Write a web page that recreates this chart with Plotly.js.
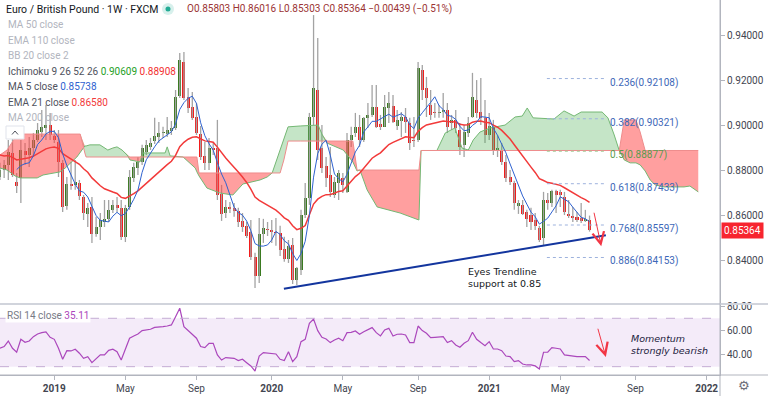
<!DOCTYPE html>
<html><head><meta charset="utf-8">
<script src="https://cdn.plot.ly/plotly-3.0.1.min.js"></script>
<style>html,body{margin:0;padding:0;background:#fff;}#chart{width:768px;height:396px;}</style>
</head><body><div id="chart"></div>
<script>
// ---------- DATA (EUR/GBP weekly, FXCM) ----------
const firstBarDate = '2018-10-07';
const opens = [0.8773,0.8804,0.8827,0.8880,0.8751,0.8769,0.8889,0.8871,0.8902,0.8938,
0.8973,0.8991,0.9004,0.8956,0.8929,0.8836,0.8644,0.8742,0.8738,0.8747,
0.8684,0.8609,0.8640,0.8520,0.8551,0.8573,0.8587,0.8627,0.8649,0.8636,
0.8507,0.8640,0.8769,0.8813,0.8840,0.8884,0.8907,0.8933,0.8951,0.8969,
0.8964,0.8978,0.8991,0.9133,0.9284,0.9129,0.9084,0.9040,0.8964,0.8867,
0.8836,0.8902,0.8902,0.8698,0.8613,0.8640,0.8636,0.8622,0.8578,0.8556,
0.8529,0.8418,0.8333,0.8520,0.8542,0.8538,0.8529,0.8524,0.8453,0.8409,
0.8471,0.8316,0.8360,0.8604,0.8680,0.9040,0.9160,0.8902,0.8822,0.8782,
0.8693,0.8747,0.8769,0.8707,0.8938,0.8969,0.8996,0.8938,0.9036,0.9049,
0.9084,0.9009,0.8996,0.9080,0.9089,0.9000,0.9022,0.9040,0.9013,0.8938,
0.8938,0.9249,0.9169,0.9093,0.9062,0.9058,0.9062,0.9071,0.9013,0.9027,
0.8982,0.8916,0.8969,0.9040,0.9116,0.9062,0.9036,0.8960,0.8996,0.8893,
0.8893,0.8840,0.8773,0.8747,0.8644,0.8649,0.8618,0.8604,0.8582,0.8547,
0.8502,0.8671,0.8658,0.8711,0.8707,0.8684,0.8609,0.8600,0.8596,0.8591,
0.8578,0.85803];
const highs = [0.8836,0.8849,0.8938,0.8960,0.8791,0.8938,0.8924,0.8951,0.8969,0.9013,
0.9071,0.9093,0.9058,0.8982,0.8982,0.8849,0.8773,0.8840,0.8849,0.8760,
0.8693,0.8658,0.8684,0.8596,0.8613,0.8671,0.8671,0.8671,0.8684,0.8671,
0.8649,0.8804,0.8836,0.8862,0.8916,0.8938,0.8947,0.9036,0.9018,0.8996,
0.9040,0.9022,0.9160,0.9324,0.9329,0.9169,0.9151,0.9102,0.9000,0.8929,
0.8947,0.8924,0.9027,0.8738,0.8671,0.8662,0.8658,0.8636,0.8613,0.8573,
0.8582,0.8436,0.8591,0.8587,0.8573,0.8582,0.8591,0.8556,0.8507,0.8493,
0.8502,0.8373,0.8627,0.8747,0.9058,0.9493,0.9391,0.9004,0.8862,0.8907,
0.8773,0.8804,0.8791,0.8969,0.8996,0.9058,0.9049,0.9040,0.9102,0.9182,
0.9182,0.9049,0.9138,0.9151,0.9138,0.9071,0.9062,0.9080,0.9036,0.9040,
0.9284,0.9271,0.9218,0.9160,0.9102,0.9093,0.9147,0.9102,0.9049,0.9071,
0.9013,0.9004,0.9040,0.9236,0.9204,0.9213,0.9116,0.9058,0.9027,0.8960,
0.8924,0.8871,0.8804,0.8756,0.8671,0.8671,0.8627,0.8636,0.8613,0.8556,
0.8707,0.8702,0.8716,0.8716,0.8716,0.8707,0.8671,0.8640,0.8618,0.8658,
0.8627,0.86016];
const lows = [0.8760,0.8769,0.8760,0.8773,0.8702,0.8658,0.8827,0.8818,0.8862,0.8929,
0.8951,0.8938,0.8938,0.8924,0.8773,0.8618,0.8627,0.8716,0.8716,0.8671,
0.8582,0.8551,0.8480,0.8507,0.8493,0.8551,0.8573,0.8613,0.8618,0.8493,
0.8484,0.8627,0.8751,0.8782,0.8827,0.8871,0.8893,0.8920,0.8924,0.8947,
0.8951,0.8960,0.8982,0.9124,0.9116,0.9058,0.9027,0.8960,0.8849,0.8804,
0.8804,0.8871,0.8671,0.8578,0.8591,0.8613,0.8596,0.8551,0.8529,0.8502,
0.8404,0.8280,0.8302,0.8480,0.8511,0.8480,0.8467,0.8422,0.8396,0.8391,
0.8298,0.8293,0.8338,0.8591,0.8649,0.9004,0.8849,0.8791,0.8729,0.8684,
0.8680,0.8671,0.8702,0.8702,0.8907,0.8951,0.8907,0.8929,0.8991,0.9040,
0.8991,0.8982,0.8996,0.9013,0.9013,0.8982,0.8951,0.8969,0.8893,0.8907,
0.8929,0.9116,0.9040,0.9027,0.9036,0.9036,0.9036,0.8969,0.8982,0.8969,
0.8871,0.8862,0.8951,0.9036,0.9036,0.9004,0.8924,0.8938,0.8871,0.8862,
0.8827,0.8751,0.8738,0.8627,0.8609,0.8604,0.8551,0.8538,0.8538,0.8484,
0.8471,0.8627,0.8640,0.8613,0.8640,0.8604,0.8591,0.8573,0.8573,0.8569,
0.8573,0.85303];
const closes = [0.8804,0.8827,0.8884,0.8782,0.8733,0.8893,0.8871,0.8902,0.8938,0.8982,
0.8996,0.9004,0.8960,0.8938,0.8840,0.8640,0.8742,0.8733,0.8751,0.8689,
0.8613,0.8636,0.8520,0.8551,0.8582,0.8587,0.8627,0.8649,0.8636,0.8507,
0.8636,0.8773,0.8818,0.8840,0.8902,0.8916,0.8924,0.8956,0.8969,0.8973,
0.8982,0.8991,0.9129,0.9293,0.9124,0.9080,0.9036,0.8969,0.8862,0.8836,
0.8902,0.8893,0.8693,0.8609,0.8640,0.8631,0.8622,0.8573,0.8551,0.8511,
0.8418,0.8333,0.8520,0.8547,0.8538,0.8529,0.8524,0.8449,0.8409,0.8467,
0.8316,0.8369,0.8604,0.8680,0.9040,0.9169,0.8893,0.8813,0.8769,0.8707,
0.8751,0.8791,0.8738,0.8938,0.8960,0.8996,0.8938,0.9036,0.9049,0.9084,
0.8996,0.8996,0.9084,0.9102,0.9018,0.9027,0.9040,0.9018,0.8924,0.8933,
0.9258,0.9160,0.9124,0.9049,0.9058,0.9062,0.9071,0.8996,0.9027,0.8991,
0.8907,0.8973,0.9013,0.9129,0.9058,0.9036,0.8960,0.9000,0.8893,0.8902,
0.8840,0.8769,0.8751,0.8658,0.8658,0.8609,0.8587,0.8573,0.8556,0.8493,
0.8671,0.8658,0.8711,0.8693,0.8693,0.8618,0.8600,0.8591,0.8582,0.8578,
0.8587,0.85364];
const rsi14 = [45.2,46.6,51.2,45.2,41.9,52.6,50.1,51.2,54.8,57.0,
58.1,58.7,54.3,52.6,45.2,36.1,43.2,43.0,44.4,41.1,
36.9,38.3,33.3,36.4,39.7,39.7,43.5,44.4,42.4,35.5,
45.2,53.5,55.4,57.0,59.8,60.3,60.9,62.5,63.1,63.1,
63.6,64.5,71.3,78.3,63.1,59.8,56.8,53.5,46.6,45.7,
49.3,49.3,39.7,35.5,37.5,37.5,36.9,35.0,36.1,33.3,
30.6,26.4,38.8,41.6,41.1,40.5,40.5,36.1,35.0,42.4,
34.1,38.3,50.7,52.6,65.9,69.4,59.8,54.3,52.9,49.9,
52.1,53.5,51.5,58.1,58.4,59.5,56.8,58.9,60.9,62.3,
58.1,55.4,60.4,61.7,55.4,56.8,57.0,56.2,49.9,49.9,
63.6,59.8,57.6,54.0,54.3,54.3,54.8,49.9,51.5,47.9,
46.0,49.3,51.5,58.4,52.6,49.9,47.4,50.7,44.6,44.6,
43.2,38.8,38.3,34.1,35.0,32.2,31.4,31.4,30.6,28.1,
41.9,41.9,45.7,45.2,44.6,39.7,39.1,38.6,38.3,38.3,
38.3,35.11];
// Ichimoku cloud (leading spans, already displaced 26 bars), read at bar offsets
const cloudWeek = [0,1.7,3.6,4.8,8.9,10.3,14.4,15.6,18.4,19.2,
20.3,20.6,21.5,23.9,25.8,27.0,28.0,29.2,30.4,31.1,
33.5,34.2,39.5,40.0,40.7,43.8,46.7,47.1,47.6,49.5,
52.6,55.7,58.1,62.2,63.9,65.1,67.0,67.9,68.9,71.8,
76.1,77.0,78.2,82.1,83.7,84.4,85.4,86.1,87.8,90.2,
95.7,99.8,100.2,100.7,104.5,106.5,108.8,110.5,112.0,113.2,
114.8,117.2,120.8,123.2,124.9,126.1,127.5,132.5,134.9,137.3,
139.0,144.0,145.4,146.9,148.1,149.3,150.7,152.1,153.1,154.3,
155.5,156.7,158.8,163.6,165.0,167.0];
const spanA = [0.8813,0.8804,0.8778,0.8769,0.8769,0.8782,0.8796,0.8813,0.8862,0.8884,
0.8911,0.8911,0.8916,0.8916,0.8893,0.8902,0.8907,0.8893,0.8871,0.8849,
0.8840,0.8880,0.8880,0.8907,0.8867,0.8862,0.8813,0.8796,0.8778,0.8724,
0.8702,0.8693,0.8742,0.8760,0.8773,0.8791,0.8893,0.8947,0.8996,0.9000,
0.9004,0.8964,0.8924,0.8893,0.8858,0.8840,0.8800,0.8804,0.8716,0.8640,
0.8613,0.8582,0.8582,0.8891,0.8891,0.8969,0.8991,0.8902,0.8893,0.8938,
0.8973,0.8991,0.9004,0.9040,0.9044,0.9080,0.9036,0.9031,0.9067,0.9044,
0.9062,0.9062,0.9036,0.8960,0.8891,0.8849,0.8836,0.8836,0.8827,0.8800,
0.8760,0.8738,0.8729,0.8729,0.8733,0.8707];
const spanB = [0.8871,0.8893,0.8947,0.8964,0.8964,0.8964,0.8964,0.8964,0.8964,0.8964,
0.8880,0.8862,0.8862,0.8862,0.8862,0.8862,0.8862,0.8862,0.8862,0.8862,
0.8862,0.8862,0.8862,0.8862,0.8862,0.8862,0.8862,0.8862,0.8791,0.8791,
0.8791,0.8791,0.8791,0.8791,0.8791,0.8791,0.8791,0.8849,0.8933,0.8933,
0.8933,0.8933,0.8933,0.8933,0.8933,0.8933,0.8804,0.8804,0.8804,0.8804,
0.8804,0.8804,0.8804,0.8891,0.8891,0.8891,0.8891,0.8891,0.8891,0.8891,
0.8891,0.8891,0.8891,0.8891,0.8891,0.8891,0.8891,0.8891,0.8891,0.8891,
0.8891,0.8891,0.8891,0.8891,0.8891,0.9027,0.9027,0.9027,0.8973,0.8891,
0.8891,0.8891,0.8891,0.8891,0.8891,0.8891];
const emaSeed = 0.8871;          // EMA 21 value at the first visible bar
const fibRatios = ['0.236','0.382','0.5','0.618','0.768','0.886'];
const fibPrices = [0.92108,0.90321,0.88877,0.87433,0.85597,0.84153];
const fibStartWeek = 130.8, fibEndWeek = 144.9, fibLabelWeek = 145.4;
const trendStart = {week: 67.9, price: 0.8276};
const trendEnd = {week: 144.9, price: 0.8514};
const priceArrow = {fromWeek: 142.0, fromPrice: 0.8621, toWeek: 143.8, toPrice: 0.8465};
const rsiArrow = {fromWeek: 142.9, fromRsi: 62.6, toWeek: 144.9, toRsi: 38.0};
const noteWeek = 111.4, notePrice = 0.8327;
const momentumWeek = 150.4, momentumRsi = 48.3;
const xTickDates = ['2019-01-06','2019-05-05','2019-09-01','2020-01-05','2020-05-03','2020-09-06','2021-01-03','2021-05-02','2021-09-05','2022-01-02'];
const xTickText = ['<b>2019</b>','May','Sep','<b>2020</b>','May','Sep','<b>2021</b>','May','Sep','<b>2022</b>'];
const priceTicks = [0.84,0.86,0.88,0.90,0.92,0.94];
const rsiTicks = [40,60,80];

// ---------- helpers ----------
const DAY = 86400000, WEEK = 7*DAY;
const t0 = Date.parse(firstBarDate + 'T00:00:00Z');
function wdate(w){ return new Date(t0 + w*WEEK).toISOString().slice(0,19).replace('T',' '); }
const dates = closes.map((_, i) => wdate(i));
const cloudDates = cloudWeek.map(wdate);
const cloudTop = spanA.map((a, i) => Math.max(a, spanB[i]));

const GREEN = '#3a7a20', RED = '#f21c1c';
const bodyBase = opens.map((o, i) => Math.min(o, closes[i]));
const bodyLen = opens.map((o, i) => Math.max(Math.abs(closes[i] - o), 0.00045));
const bodyCol = opens.map((o, i) => closes[i] >= o ? GREEN : RED);

const alpha = 2/22; let e = emaSeed;
const ema21 = closes.map((c, i) => { if (i > 0) e = alpha*c + (1-alpha)*e; return e; });
const ma5 = closes.map((c, i) => i < 4 ? null : (closes[i]+closes[i-1]+closes[i-2]+closes[i-3]+closes[i-4])/5);

const noHover = {hoverinfo: 'skip'};
const traces = [
  Object.assign({x: cloudDates, y: spanB, type: 'scatter', mode: 'lines', line: {width: 0}}, noHover),
  Object.assign({x: cloudDates, y: cloudTop, type: 'scatter', mode: 'lines', line: {width: 0}, fill: 'tonexty', fillcolor: 'rgba(76,175,80,0.32)'}, noHover),
  Object.assign({x: cloudDates, y: spanA, type: 'scatter', mode: 'lines', line: {width: 0}}, noHover),
  Object.assign({x: cloudDates, y: cloudTop, type: 'scatter', mode: 'lines', line: {width: 0}, fill: 'tonexty', fillcolor: 'rgba(255,70,70,0.52)'}, noHover),
  Object.assign({x: cloudDates, y: spanA, type: 'scatter', mode: 'lines', line: {width: 1, color: '#74b874'}}, noHover),
  Object.assign({x: cloudDates, y: spanB, type: 'scatter', mode: 'lines', line: {width: 1, color: '#ee8c8c'}}, noHover),
  Object.assign({x: dates, open: opens, high: highs, low: lows, close: closes, type: 'ohlc', tickwidth: 0,
    increasing: {line: {color: '#a3a3a3', width: 1.3}}, decreasing: {line: {color: '#a3a3a3', width: 1.3}}}, noHover),
  Object.assign({x: dates, y: bodyLen, base: bodyBase, type: 'bar', width: 0.72*WEEK,
    marker: {color: bodyCol, line: {width: 0}}}, noHover),
  Object.assign({x: dates, y: ema21, type: 'scatter', mode: 'lines', line: {width: 1.5, color: '#f23a3a'}}, noHover),
  Object.assign({x: dates, y: ma5, type: 'scatter', mode: 'lines', line: {width: 1, color: '#2f62d0'}}, noHover),
  Object.assign({x: dates, y: rsi14, type: 'scatter', mode: 'lines', yaxis: 'y2', line: {width: 1.2, color: '#ab47bc'}}, noHover)
];

// ---------- layout ----------
const W = 720, H = 375;
const px = x => x / W, py = y => 1 - y / H;
const axisCol = '#b2b5be';
const fibCol = ['#3d68b8','#3d68b8','#5b9a4e','#3d68b8','#3d68b8','#3d68b8'];
const fibLine = ['#9db2dd','#9db2dd','#9fcb95','#9db2dd','#9db2dd','#9db2dd'];

const shapes = [
  {type: 'rect', xref: 'paper', yref: 'y2', x0: 0, x1: 1, y0: 30, y1: 70, fillcolor: 'rgba(150,60,200,0.10)', line: {width: 0}, layer: 'below'},
  {type: 'line', xref: 'paper', yref: 'y2', x0: 0, x1: 1, y0: 70, y1: 70, line: {color: '#c4add4', width: 1, dash: 'dash'}},
  {type: 'line', xref: 'paper', yref: 'y2', x0: 0, x1: 1, y0: 30, y1: 30, line: {color: '#c4add4', width: 1, dash: 'dash'}},
  {type: 'line', xref: 'paper', yref: 'paper', x0: 0, x1: 768/W, y0: py(304), y1: py(304), line: {color: '#d1d4dc', width: 2}},
  {type: 'line', xref: 'paper', yref: 'paper', x0: 0, x1: 768/W, y0: 0, y1: 0, line: {color: axisCol, width: 1}},
  {type: 'line', xref: 'paper', yref: 'paper', x0: 1, x1: 1, y0: py(396), y1: 1, line: {color: axisCol, width: 1}},
  {type: 'line', xref: 'x', yref: 'y', x0: wdate(trendStart.week), y0: trendStart.price, x1: wdate(trendEnd.week), y1: trendEnd.price, line: {color: '#13359e', width: 2}},
  {type: 'circle', xref: 'paper', yref: 'paper', x0: px(162), x1: px(174), y0: py(15), y1: py(3), fillcolor: 'rgba(34,171,148,0.18)', line: {width: 0}},
  {type: 'circle', xref: 'paper', yref: 'paper', x0: px(165.5), x1: px(170.5), y0: py(11.5), y1: py(6.5), fillcolor: '#22ab94', line: {width: 0}},
  {type: 'rect', xref: 'paper', yref: 'paper', x0: px(6), x1: px(24), y0: py(139), y1: py(126), fillcolor: '#ffffff', line: {color: '#e0e3eb', width: 1}},
  {type: 'path', xref: 'paper', yref: 'paper', path: `M ${px(12)} ${py(134.5)} L ${px(15)} ${py(131)} L ${px(18)} ${py(134.5)}`, line: {color: '#50535e', width: 1}}
];
fibPrices.forEach((p, i) => shapes.push({type: 'line', xref: 'x', yref: 'y', x0: wdate(fibStartWeek), x1: wdate(fibEndWeek), y0: p, y1: p,
  line: {color: fibLine[i], width: 1, dash: 'dot'}}));

const UI = 'Roboto, sans-serif';
const leg = (y, html) => ({xref: 'paper', yref: 'paper', x: px(6), y: py(y), xanchor: 'left', yanchor: 'middle', showarrow: false, text: html,
  font: {family: UI, size: 10, color: '#50535e'}});
const gray = t => `<span style="color:#b2b5be">${t}</span>`;
const annotations = [
  {xref: 'paper', yref: 'paper', x: px(185), y: py(9), xanchor: 'left', yanchor: 'middle', showarrow: false,
   text: 'O0.85803 H0.86016 L0.85303 C0.85364 −0.00439 (−0.51%)', font: {family: UI, size: 10, color: '#9b3434'}},
  leg(24.5, gray('MA 50 close')),
  leg(40, gray('EMA 110 close')),
  leg(55.5, gray('BB 20 close 2')),
  leg(71, 'Ichimoku 9 26 52 26 <span style="color:#26a026">0.90609</span> <span style="color:#f23030">0.88908</span>'),
  leg(86.5, 'MA 5 close <span style="color:#2f62d0">0.85738</span>'),
  leg(102, 'EMA 21 close <span style="color:#f23a3a">0.86580</span>'),
  leg(117.5, gray('MA 200 close')),
  {xref: 'paper', yref: 'paper', x: px(5), y: py(315), xanchor: 'left', yanchor: 'middle', showarrow: false, bgcolor: 'rgba(255,255,255,0.92)',
   text: 'RSI 14 close <span style="color:#ab47bc">35.11</span>', font: {family: UI, size: 10, color: '#787b86'}},
  {xref: 'x', yref: 'y', x: wdate(noteWeek), y: notePrice, xanchor: 'left', yanchor: 'middle', align: 'left', showarrow: false,
   text: 'Eyes Trendline<br>support at 0.85', font: {family: 'DejaVu Sans, sans-serif', size: 9.5, color: '#131722'}},
  {xref: 'x', yref: 'y2', x: wdate(momentumWeek), y: momentumRsi, xanchor: 'left', yanchor: 'middle', align: 'left', showarrow: false,
   text: '<i>Momentum<br>strongly bearish</i>', font: {family: 'DejaVu Sans, sans-serif', size: 9.5, color: '#1c1c3e'}},
  {xref: 'x', yref: 'y', x: wdate(priceArrow.toWeek), y: priceArrow.toPrice, axref: 'x', ayref: 'y',
   ax: wdate(priceArrow.fromWeek), ay: priceArrow.fromPrice, showarrow: true, arrowhead: 5, arrowsize: 2.3, arrowwidth: 1, arrowcolor: '#f23645', text: ''},
  {xref: 'x', yref: 'y2', x: wdate(rsiArrow.toWeek), y: rsiArrow.toRsi, axref: 'x', ayref: 'y2',
   ax: wdate(rsiArrow.fromWeek), ay: rsiArrow.fromRsi, showarrow: true, arrowhead: 5, arrowsize: 2.3, arrowwidth: 1, arrowcolor: '#f23645', text: ''},
  {xref: 'paper', yref: 'y', x: 1, y: closes[closes.length-1], xanchor: 'left', yanchor: 'middle', xshift: 1, showarrow: false,
   text: closes[closes.length-1].toFixed(5), bgcolor: '#f7252f', borderpad: 2, font: {family: UI, size: 10, color: '#ffffff'}},
  {xref: 'paper', yref: 'paper', x: px(744), y: py(385), xanchor: 'center', yanchor: 'middle', showarrow: false,
   text: '⚙', font: {family: 'DejaVu Sans, sans-serif', size: 13, color: '#6a6d78'}}
];
fibPrices.forEach((p, i) => annotations.push({xref: 'x', yref: 'y', x: wdate(fibLabelWeek), y: p, yshift: -4, xanchor: 'left', yanchor: 'middle',
  showarrow: false, text: `${fibRatios[i]}(${p.toFixed(5)})`, font: {family: UI, size: 10, color: fibCol[i]}}));

const axisCommon = {showgrid: false, zeroline: false, showline: true, linecolor: axisCol, linewidth: 1,
  ticks: 'outside', ticklen: 4, tickcolor: axisCol, tickfont: {family: UI, size: 10, color: '#434651'}, fixedrange: true};

const layout = {
  width: 768, height: 396,
  margin: {l: 0, r: 48, t: 0, b: 21, pad: 0},
  paper_bgcolor: '#ffffff', plot_bgcolor: '#ffffff',
  showlegend: false, hovermode: false, bargap: 0,
  font: {family: UI, size: 10, color: '#131722'},
  title: {text: 'Euro / British Pound · 1W · FXCM', xref: 'container', yref: 'container', x: 6/768, y: 1 - 9/396,
    xanchor: 'left', yanchor: 'middle', font: {family: UI, size: 10.5, color: '#131722'}},
  xaxis: Object.assign({}, axisCommon, {type: 'date', range: [wdate(0.012), wdate(172.2)], anchor: 'y2',
    tickvals: xTickDates, ticktext: xTickText, rangeslider: {visible: false}}),
  yaxis: Object.assign({}, axisCommon, {domain: [0.192, 1], range: [0.8213, 0.956], side: 'right', anchor: 'x',
    tickvals: priceTicks, tickformat: '.5f'}),
  yaxis2: Object.assign({}, axisCommon, {domain: [0, 0.1867], range: [23.1, 81.0], side: 'right', anchor: 'x',
    tickvals: rsiTicks, tickformat: '.2f'}),
  shapes: shapes, annotations: annotations
};

Plotly.newPlot('chart', traces, layout, {staticPlot: true, displayModeBar: false});
</script></body></html>
